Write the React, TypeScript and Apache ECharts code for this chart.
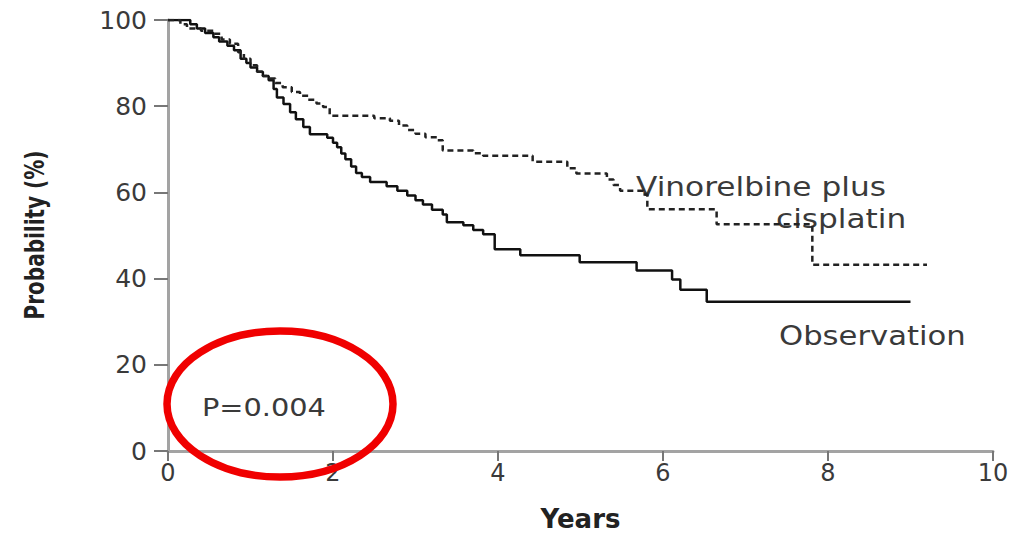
import React, { useEffect, useRef } from "react";
import * as echarts from "echarts";

// Kaplan-Meier step data (time in years, probability %)
const observationYears = [0, 0.27, 0.35, 0.45, 0.55, 0.62, 0.72, 0.8, 0.88, 0.95, 1.0, 1.08, 1.15, 1.22, 1.28, 1.32, 1.4, 1.48, 1.55, 1.64, 1.72, 1.93, 2.0, 2.05, 2.1, 2.15, 2.22, 2.28, 2.35, 2.45, 2.65, 2.78, 2.9, 3.0, 3.09, 3.2, 3.33, 3.38, 3.58, 3.7, 3.82, 3.96, 4.27, 4.99, 5.68, 6.11, 6.21, 6.53, 9.0];
const observationProb = [100, 99, 98, 97, 96, 95, 94, 93, 91, 90, 89, 88, 87, 86, 84, 82, 80.5, 78.6, 77, 75.2, 73.5, 72.7, 71.5, 70.5, 69, 67.7, 66, 64.5, 63.6, 62.4, 61.4, 60.4, 59.3, 58.2, 57.2, 56, 54.9, 53.1, 52.4, 51.3, 50.3, 46.8, 45.4, 43.8, 41.9, 39.8, 37.4, 34.6, 34.6];

const vinoYears = [0, 0.15, 0.23, 0.4, 0.55, 0.65, 0.75, 0.85, 0.92, 1.0, 1.08, 1.15, 1.2, 1.3, 1.39, 1.5, 1.6, 1.7, 1.8, 1.88, 1.96, 2.5, 2.69, 2.8, 2.9, 3.0, 3.12, 3.26, 3.33, 3.7, 3.82, 4.42, 4.84, 4.95, 5.32, 5.4, 5.48, 5.76, 5.81, 6.65, 7.81, 9.2];
const vinoProb = [100, 99, 98, 97.5, 96.8, 95.5, 94.5, 92.5, 91, 89.5, 88, 87, 86.4, 85.4, 84.4, 83.3, 82.4, 81.5, 80.6, 79.8, 77.8, 77.2, 76.6, 75.5, 74.5, 73.6, 72.8, 72.1, 69.7, 69.1, 68.5, 67.1, 65.6, 64.4, 63.0, 61.7, 60.4, 59.5, 56.1, 52.6, 43.2, 43.2];

const xTicks = { min: 0, max: 10, interval: 2 };
const yTicks = { min: 0, max: 100, interval: 20 };

const labelVino1 = "Vinorelbine plus";
const labelVino2 = "cisplatin";
const labelObs = "Observation";
const pValueText = "P=0.004";
const xTitle = "Years";
const yTitle = "Probability (%)";

const FONT = "DejaVu Sans";

export default function App() {
  const ref = useRef<HTMLDivElement>(null);

  useEffect(() => {
    document.body.style.margin = "0";
    if (!ref.current) return;
    const chart = echarts.init(ref.current, undefined, { renderer: "svg" });
    const axisColor = "#a3a3a3";
    const textColor = "#3a3a3a";
    chart.setOption({
      animation: false,
      backgroundColor: "#ffffff",
      grid: { left: 168, top: 20, width: 825, height: 434, containLabel: false },
      xAxis: {
        type: "value",
        min: xTicks.min,
        max: xTicks.max,
        interval: xTicks.interval,
        name: xTitle,
        nameLocation: "middle",
        nameGap: 55,
        nameTextStyle: { fontFamily: FONT, fontSize: 26, fontWeight: "bold", color: "#222" },
        axisLine: { show: true, onZero: false, lineStyle: { color: axisColor, width: 3 } },
        axisTick: { show: true, length: 10, lineStyle: { color: "#777", width: 2 } },
        axisLabel: { fontFamily: FONT, fontSize: 24, color: textColor, margin: 10 },
        splitLine: { show: false },
      },
      yAxis: {
        type: "value",
        min: yTicks.min,
        max: yTicks.max,
        interval: yTicks.interval,
        axisLine: { show: true, lineStyle: { color: axisColor, width: 3 } },
        axisTick: { show: true, length: 14, lineStyle: { color: "#777", width: 2 } },
        axisLabel: { fontFamily: FONT, fontSize: 25, color: textColor, margin: 21 },
        splitLine: { show: false },
      },
      series: [
        {
          name: labelObs,
          type: "line",
          step: "end",
          symbol: "none",
          data: observationYears.map((t, i) => [t, observationProb[i]]),
          lineStyle: { color: "#111", width: 2.5 },
        },
        {
          name: labelVino1 + " " + labelVino2,
          type: "line",
          step: "end",
          symbol: "none",
          data: vinoYears.map((t, i) => [t, vinoProb[i]]),
          lineStyle: { color: "#222", width: 2.5, type: [6, 4] },
        },
      ],
      graphic: [
        {
          type: "text",
          x: 34,
          y: 235,
          rotation: Math.PI / 2,
          scaleY: 1.3,
          style: { text: yTitle, fontFamily: FONT, fontSize: 20, fontWeight: "bold", fill: "#222", align: "center", verticalAlign: "middle" },
        },
        { type: "text", x: 636, y: 174, scaleX: 1.2, style: { text: labelVino1, fontFamily: FONT, fontSize: 26, fill: textColor } },
        { type: "text", x: 776, y: 206, scaleX: 1.2, style: { text: labelVino2, fontFamily: FONT, fontSize: 26, fill: textColor } },
        { type: "text", x: 779, y: 323, scaleX: 1.18, style: { text: labelObs, fontFamily: FONT, fontSize: 26, fill: textColor } },
        { type: "text", x: 202, y: 395, scaleX: 1.2, style: { text: pValueText, fontFamily: FONT, fontSize: 24, fill: textColor } },
        {
          type: "ellipse",
          shape: { cx: 280, cy: 404, rx: 113, ry: 73 },
          style: { fill: "none", stroke: "#f00000", lineWidth: 7.5 },
          z: 100,
        },
      ],
    });
    return () => chart.dispose();
  }, []);

  return <div ref={ref} style={{ width: 1024, height: 537 }} />;
}
